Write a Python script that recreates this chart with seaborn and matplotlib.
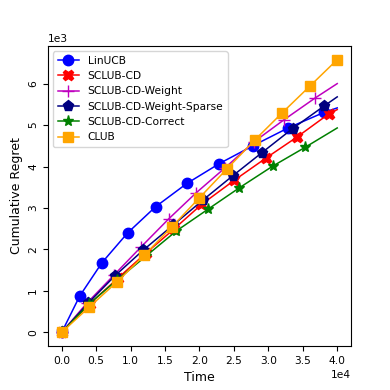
import matplotlib
matplotlib.use('Agg')
import matplotlib.pyplot as plt
import seaborn as sns

# marker points (plus the line end where there is no marker)
linucb_x = [0, 2609, 5841, 9565, 13623, 18159, 22899, 27826, 32899, 38116, 40000]
linucb_y = [0, 875, 1680, 2398, 3029, 3590, 4072, 4506, 4933, 5308, 5414]

sclub_x = [0, 4058, 8116, 12174, 16232, 20290, 25072, 29710, 34203, 38841, 40000]
sclub_y = [0, 687, 1301, 1904, 2482, 3084, 3670, 4210, 4716, 5277, 5373]

weight_x = [0, 3623, 7536, 11449, 15551, 19522, 23768, 27971, 32319, 36812, 40000]
weight_y = [0, 699, 1373, 2048, 2740, 3366, 3976, 4602, 5133, 5655, 6000]

sparse_x = [0, 3812, 7681, 11783, 16116, 20478, 24826, 29087, 33522, 38116, 40000]
sparse_y = [0, 699, 1357, 1976, 2578, 3188, 3776, 4337, 4916, 5463, 5680]

correct_x = [0, 3913, 7971, 12174, 16609, 21188, 25797, 30623, 35362, 40000]
correct_y = [0, 675, 1253, 1831, 2441, 2964, 3487, 4008, 4465, 4930]

club_x = [0, 4000, 8000, 12000, 16000, 20000, 24000, 28000, 32000, 36000, 40000]
club_y = [0, 610, 1212, 1863, 2547, 3246, 3945, 4634, 5294, 5935, 6578]

series = [
    ('LinUCB', linucb_x, linucb_y, 'blue', 'o', 7.5, True),
    ('SCLUB-CD', sclub_x, sclub_y, 'red', 'X', 7.5, True),
    ('SCLUB-CD-Weight', weight_x, weight_y, 'm', '+', 8, True),
    ('SCLUB-CD-Weight-Sparse', sparse_x, sparse_y, 'navy', 'p', 8, True),
    ('SCLUB-CD-Correct', correct_x, correct_y, 'green', '*', 8, True),
    ('CLUB', club_x, club_y, 'orange', 's', 7.5, False),
]

fig, ax = plt.subplots(figsize=(3.9, 3.9), dpi=100)
fig.subplots_adjust(left=0.123, right=0.9, bottom=0.113, top=0.882)

for name, xs, ys, col, mk, ms, skip_end in series:
    every = list(range(len(xs) - 1)) if skip_end else None
    sns.lineplot(x=xs, y=ys, ax=ax, color=col, marker=mk, markersize=ms,
                 markeredgecolor=col, markerfacecolor=col,
                 markeredgewidth=1.0, linewidth=1.1, markevery=every,
                 label=name, legend=False)

ax.ticklabel_format(style='sci', axis='both', scilimits=(0, 0))
ax.tick_params(labelsize=7.7)
for lab in ax.get_yticklabels():
    lab.set_rotation(90)
    lab.set_va('center')
ax.xaxis.get_offset_text().set_fontsize(7.7)
ax.yaxis.get_offset_text().set_fontsize(7.7)

ax.set_xlabel('Time', fontsize=9)
ax.set_ylabel('Cumulative Regret', fontsize=9)
ax.legend(loc='upper left', fontsize=7.7)

fig.savefig('out.png', dpi=100)
